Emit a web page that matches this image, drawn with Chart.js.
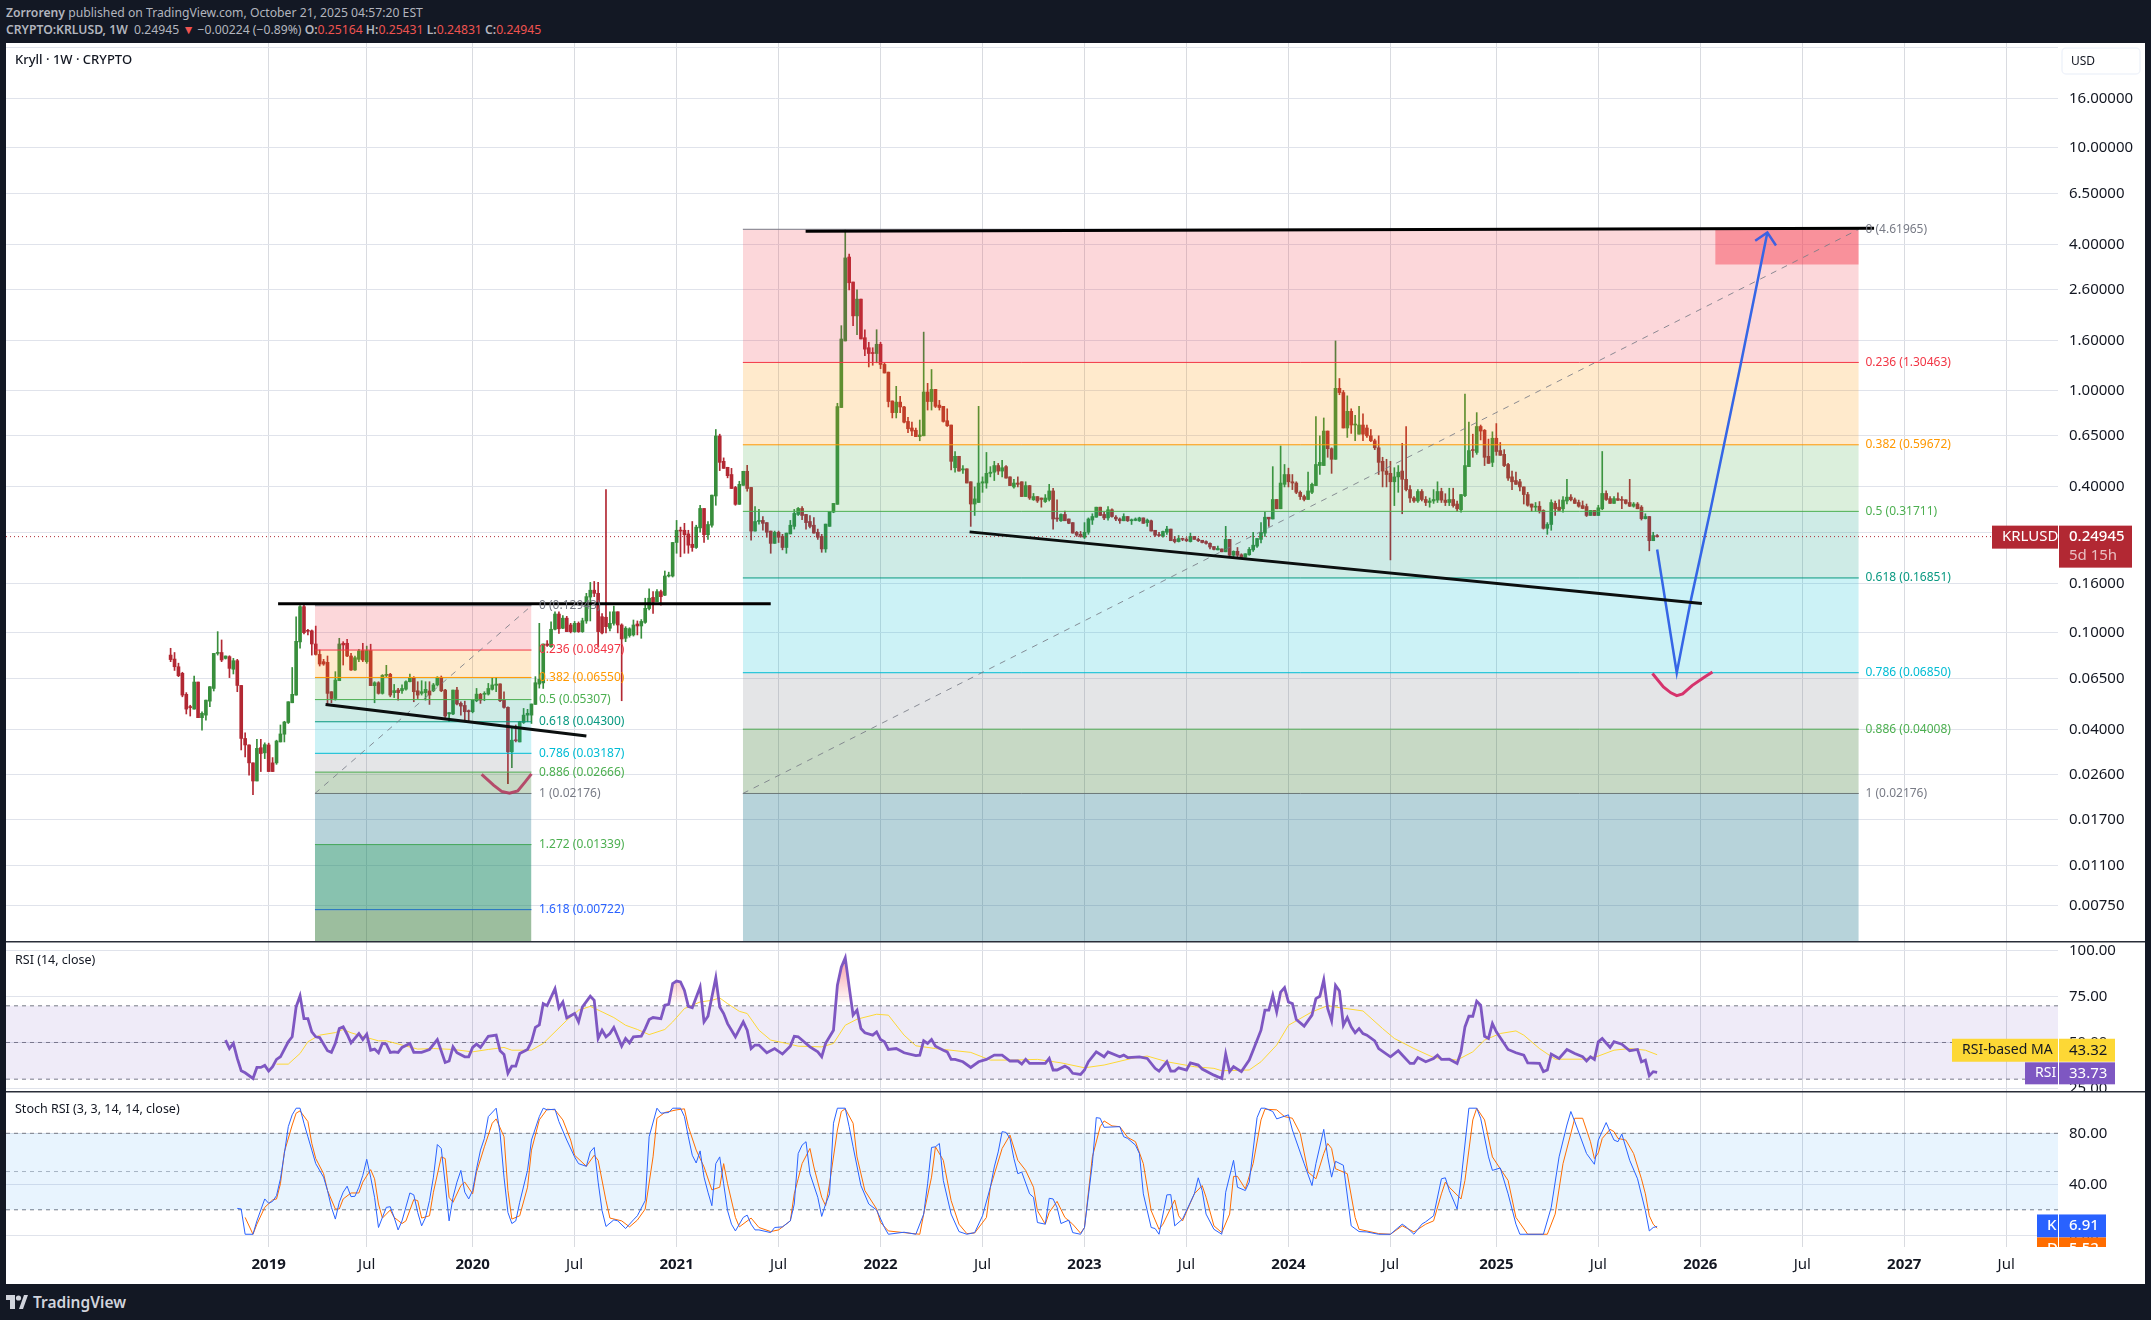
<!DOCTYPE html>
<html>
<head>
<meta charset="utf-8">
<title>KRLUSD</title>
<script src="https://cdn.jsdelivr.net/npm/chart.js@4"></script>
<style>
  html, body { margin: 0; padding: 0; background: #131824; width: 2151px; height: 1320px; overflow: hidden; }
  body { font-family: 'Noto Sans', sans-serif; position: relative; }
  #chart { position: absolute; left: 6px; top: 43px; background: #fff; }
  .head { position: absolute; left: 6px; color: #b2b5be; font-size: 12.2px; line-height: 18px; white-space: nowrap; }
  .head b { font-weight: 600; }
  .head i { font-style: normal; color: #ef5350; }
  #footer { position: absolute; left: 6px; top: 1289px; height: 26px; display: flex; align-items: center; color: #d1d4dc; font-size: 15.5px; font-weight: 600; }
  #footer svg { margin-right: 5px; }
</style>
</head>
<body>
<div class="head" style="top:4px"><b>Zorroreny</b> published on TradingView.com, October 21, 2025 04:57:20 EST</div>
<div class="head" style="top:21px"><b>CRYPTO:KRLUSD, 1W</b> &nbsp;0.24945 <span style="color:#ef5350">▼</span> −0.00224 (−0.89%) <b>O:</b><i>0.25164</i> <b>H:</b><i>0.25431</i> <b>L:</b><i>0.24831</i> <b>C:</b><i>0.24945</i></div>
<canvas id="chart" width="2139" height="1241"></canvas>
<div id="footer">
  <svg width="22" height="14" viewBox="0 0 22 14"><path d="M0 0h9v14H4V5H0z M18 0h4l-5 14h-4z" fill="#d1d4dc"/><circle cx="12.5" cy="3" r="2.6" fill="#d1d4dc"/></svg>
  TradingView
</div>
<script>
// weekly candles, index 0 is the first bar on the chart
const opens = [
  .0810,.0780,.0725,.0681,.0558,.0495,.0485,.0627,.0447,.0458,
  .0523,.0590,.0823,.0830,.0785,.0798,.0708,.0768,.0607,.0367,
  .0345,.0291,.0245,.0336,.0320,.0345,.0291,.0291,.0355,.0382,
  .0427,.0515,.0554,.0918,.1283,.1020,.1020,.0900,.0815,.0761,
  .0756,.0572,.0536,.0635,.0906,.0906,.0803,.0703,.0778,.0845,
  .0761,.0845,.0606,.0623,.0563,.0668,.0675,.0567,.0581,.0577,
  .0586,.0629,.0654,.0577,.0563,.0567,.0576,.0577,.0610,.0656,
  .0581,.0463,.0463,.0581,.0512,.0502,.0478,.0473,.0525,.0558,
  .0558,.0559,.0585,.0608,.0616,.0528,.0493,.0323,.0361,.0355,
  .0427,.0458,.0458,.0507,.0615,.0622,.0900,.0877,.1035,.1196,
  .1045,.1150,.1078,.1012,.1095,.1012,.1120,.1405,.1500,.1456,
  .1166,.1160,.1045,.1095,.1222,.1078,.0950,.0975,.0981,.1088,
  .1068,.1105,.1260,.1400,.1345,.1480,.1430,.1716,.1716,.236,
  .265,.265,.256,.232,.225,.271,.326,.254,.278,.367,
  .649,.510,.482,.450,.398,.339,.406,.464,.398,.263,
  .288,.291,.285,.263,.234,.260,.250,.225,.256,.275,
  .308,.326,.308,.288,.278,.260,.250,.222,.275,.315,
  .339,.850,1.60,3.55,2.80,2.03,2.38,1.65,1.50,1.43,
  1.42,1.55,1.28,1.19,.905,.81,.895,.855,.745,.70,
  .685,.645,.65,.985,.90,1.01,.87,.86,.75,.72,
  .48,.535,.47,.475,.42,.34,.345,.415,.415,.455,
  .46,.49,.465,.485,.44,.40,.415,.42,.365,.405,
  .354,.365,.36,.348,.355,.385,.296,.29,.308,.295,
  .285,.26,.255,.248,.26,.292,.30,.33,.308,.298,
  .322,.30,.295,.29,.302,.29,.291,.29,.298,.285,
  .29,.265,.253,.25,.26,.268,.243,.238,.245,.243,
  .238,.25,.243,.241,.238,.234,.227,.22,.222,.216,
  .243,.209,.217,.21,.205,.21,.22,.228,.243,.258,
  .30,.295,.355,.325,.41,.45,.42,.415,.38,.365,
  .355,.38,.405,.49,.49,.68,.575,.52,1.02,.98,
  .70,.82,.72,.66,.72,.70,.65,.62,.58,.51,
  .465,.455,.42,.44,.465,.43,.39,.36,.35,.383,
  .355,.345,.35,.353,.383,.353,.345,.355,.34,.322,
  .368,.485,.57,.555,.71,.685,.535,.505,.635,.565,
  .545,.495,.44,.425,.42,.40,.372,.34,.33,.333,
  .32,.27,.28,.342,.33,.325,.35,.363,.354,.345,
  .335,.332,.305,.32,.305,.325,.376,.358,.342,.358,
  .354,.354,.345,.333,.34,.33,.296,.302,.24,.25164,
];
const highs = [
  .0864,.0830,.0750,.0688,.0567,.0503,.0664,.0627,.0473,.0528,
  .0600,.0823,.1012,.0935,.0803,.0805,.0785,.0778,.0607,.0387,
  .0345,.0291,.0364,.0364,.0352,.0351,.0306,.0361,.0417,.0432,
  .0520,.0720,.1166,.1295,.1305,.1035,.1028,.1067,.0850,.0778,
  .0803,.0572,.0692,.0950,.0920,.0941,.0823,.0803,.0855,.0906,
  .0882,.0898,.0629,.0629,.0673,.0735,.0681,.0613,.0590,.0610,
  .0635,.0677,.0660,.0629,.0635,.0629,.0629,.0619,.0660,.0664,
  .0585,.0469,.0581,.0596,.0520,.0523,.0481,.0528,.0590,.0563,
  .0572,.0619,.0650,.0656,.0617,.0572,.0496,.0404,.0417,.0432,
  .0488,.0484,.0509,.0660,.1095,.0900,.0930,.1110,.1222,.1222,
  .1180,.1170,.1095,.1115,.1110,.1150,.1456,.1615,.1630,.1615,
  .1200,.3900,.1220,.1290,.1222,.1090,.1061,.1050,.1130,.1120,
  .1135,.1390,.1520,.1480,.1510,.1500,.1800,.1780,.2360,.291,
  .273,.283,.265,.288,.278,.336,.326,.288,.370,.690,
  .660,.527,.482,.477,.402,.422,.464,.491,.398,.332,
  .323,.302,.285,.263,.263,.263,.255,.258,.291,.323,
  .329,.332,.308,.305,.299,.268,.255,.281,.317,.342,
  .885,1.85,4.60,3.65,2.80,2.60,2.38,1.78,1.58,1.50,
  1.78,1.58,1.30,1.19,.905,1.04,.945,.86,.775,.74,
  .70,.755,1.74,1.07,1.22,1.01,.91,.86,.84,.72,
  .56,.535,.49,.475,.42,.40,.86,.44,.555,.485,
  .51,.50,.515,.49,.44,.43,.44,.42,.42,.405,
  .376,.365,.36,.372,.41,.395,.354,.31,.318,.295,
  .285,.262,.262,.285,.298,.31,.33,.33,.315,.332,
  .325,.305,.298,.31,.302,.295,.298,.30,.298,.295,
  .292,.265,.26,.263,.275,.268,.25,.252,.246,.247,
  .258,.25,.246,.241,.24,.235,.227,.228,.222,.275,
  .243,.218,.225,.212,.212,.225,.26,.245,.285,.315,
  .30,.485,.355,.59,.495,.478,.45,.42,.385,.37,
  .46,.415,.78,.65,.77,.68,.58,1.6,1.12,1.0,
  .95,.84,.79,.86,.80,.72,.69,.63,.65,.53,
  .52,.51,.48,.49,.605,.71,.405,.365,.39,.39,
  .365,.36,.39,.42,.395,.375,.395,.395,.35,.372,
  .965,.74,.66,.81,.72,.69,.63,.675,.73,.61,
  .57,.50,.465,.46,.43,.40,.38,.34,.345,.348,
  .322,.285,.354,.35,.354,.365,.43,.372,.36,.353,
  .35,.34,.32,.32,.336,.56,.385,.365,.365,.378,
  .365,.354,.43,.345,.345,.335,.31,.302,.26,.25431,
];
const lows = [
  .0761,.0700,.0660,.0545,.0463,.0454,.0485,.0447,.0397,.0437,
  .0496,.0576,.0810,.0761,.0780,.0654,.0677,.0572,.0329,.0308,
  .0259,.0215,.0245,.0268,.0303,.0268,.0268,.0287,.0355,.0355,
  .0423,.0515,.0554,.0864,.0990,.0980,.0810,.0810,.0730,.0735,
  .0503,.0515,.0528,.0635,.0737,.0798,.0700,.0700,.0761,.0761,
  .0749,.0606,.0515,.0559,.0559,.0660,.0545,.0541,.0528,.0563,
  .0581,.0627,.0520,.0536,.0554,.0528,.0507,.0572,.0604,.0572,
  .0448,.0430,.0460,.0505,.0458,.0430,.0430,.0468,.0520,.0512,
  .0525,.0554,.0581,.0572,.0520,.0489,.0239,.0278,.0355,.0355,
  .0423,.0430,.0423,.0507,.0592,.0590,.0880,.0872,.1028,.0996,
  .1040,.1012,.1000,.1005,.1005,.1005,.1095,.1120,.1411,.0877,
  .0990,.1000,.1020,.1075,.1000,.0525,.0920,.0960,.0970,.0981,
  .0950,.1095,.1243,.1204,.1345,.1300,.1425,.1700,.1700,.213,
  .206,.213,.213,.217,.223,.260,.236,.243,.273,.336,
  .467,.477,.436,.394,.336,.339,.406,.384,.241,.263,
  .281,.265,.248,.213,.234,.236,.220,.213,.256,.268,
  .305,.293,.268,.271,.258,.243,.215,.215,.275,.313,
  .339,.850,1.60,2.60,1.85,1.70,1.63,1.39,1.25,1.27,
  1.30,1.23,1.18,.855,.77,.77,.81,.735,.67,.65,
  .645,.62,.65,.83,.83,.85,.83,.74,.71,.47,
  .46,.465,.455,.415,.275,.305,.345,.38,.395,.44,
  .425,.45,.44,.435,.405,.395,.40,.365,.365,.355,
  .352,.345,.33,.345,.35,.268,.288,.288,.29,.282,
  .258,.25,.248,.245,.255,.28,.30,.305,.293,.292,
  .30,.29,.283,.29,.288,.28,.29,.288,.283,.275,
  .263,.25,.25,.248,.255,.24,.235,.237,.24,.238,
  .237,.243,.238,.235,.232,.222,.22,.22,.216,.216,
  .207,.205,.205,.203,.205,.209,.217,.225,.235,.25,
  .275,.295,.325,.325,.40,.40,.39,.375,.355,.35,
  .355,.375,.405,.45,.49,.53,.455,.52,.96,.70,
  .64,.665,.62,.66,.62,.64,.615,.57,.45,.40,
  .40,.20,.335,.38,.31,.385,.345,.345,.345,.35,
  .335,.33,.342,.345,.345,.335,.335,.33,.318,.315,
  .365,.485,.53,.545,.625,.49,.50,.485,.54,.54,
  .485,.425,.39,.41,.385,.34,.333,.318,.318,.312,
  .268,.255,.265,.305,.32,.315,.34,.35,.342,.33,
  .325,.302,.305,.305,.305,.322,.352,.342,.342,.352,
  .325,.34,.332,.33,.325,.292,.295,.218,.24,.24831,
];
const closes = [
  .0776,.0725,.0666,.0554,.0485,.0492,.0627,.0447,.0466,.0528,
  .0600,.0823,.0828,.0773,.0803,.0714,.0768,.0607,.0367,.0345,
  .0291,.0245,.0334,.0318,.0346,.0268,.0268,.0358,.0383,.0429,
  .0520,.0558,.0923,.1283,.1002,.1015,.0900,.0815,.0744,.0744,
  .0563,.0536,.0639,.0900,.0892,.0803,.0703,.0790,.0842,.0773,
  .0845,.0606,.0623,.0563,.0668,.0673,.0554,.0578,.0567,.0590,
  .0629,.0654,.0572,.0554,.0572,.0585,.0554,.0610,.0656,.0577,
  .0454,.0469,.0581,.0509,.0499,.0473,.0473,.0528,.0559,.0528,
  .0563,.0590,.0610,.0615,.0525,.0493,.0323,.0361,.0359,.0430,
  .0458,.0466,.0509,.0623,.0643,.0900,.0888,.1035,.1196,.1040,
  .1150,.1012,.1012,.1095,.1012,.1122,.1411,.1500,.1456,.1012,
  .1000,.1061,.1095,.1222,.1078,.0944,.1045,.1040,.1078,.1068,
  .1115,.1263,.1390,.1340,.1480,.1411,.1716,.1730,.2360,.265,
  .263,.254,.230,.225,.273,.326,.254,.280,.370,.649,
  .505,.477,.445,.394,.339,.410,.464,.394,.263,.288,
  .291,.283,.260,.234,.260,.248,.225,.258,.278,.311,
  .326,.305,.285,.275,.258,.248,.222,.281,.317,.342,
  .858,1.63,3.52,2.78,2.03,2.38,1.63,1.48,1.42,1.42,
  1.55,1.28,1.18,.90,.81,.895,.855,.74,.695,.68,
  .645,.655,.985,.90,1.01,.86,.85,.745,.715,.51,
  .535,.465,.475,.415,.34,.357,.415,.42,.455,.46,
  .49,.465,.48,.435,.405,.415,.41,.365,.405,.36,
  .365,.35,.355,.36,.385,.295,.295,.308,.29,.283,
  .258,.253,.25,.26,.295,.302,.33,.305,.298,.322,
  .302,.295,.29,.302,.29,.293,.295,.298,.283,.292,
  .263,.253,.252,.262,.268,.24,.238,.245,.243,.24,
  .25,.243,.24,.236,.234,.226,.221,.223,.216,.243,
  .209,.217,.209,.205,.212,.221,.23,.245,.26,.30,
  .295,.355,.325,.415,.45,.42,.415,.38,.365,.355,
  .385,.41,.495,.505,.68,.575,.52,1.02,.98,.70,
  .82,.72,.725,.72,.66,.65,.62,.58,.505,.465,
  .45,.42,.44,.46,.43,.39,.36,.35,.383,.355,
  .345,.35,.355,.383,.353,.345,.355,.335,.325,.372,
  .49,.565,.565,.71,.68,.53,.50,.635,.56,.54,
  .49,.435,.42,.41,.40,.372,.336,.33,.333,.318,
  .27,.28,.345,.325,.32,.353,.363,.354,.342,.333,
  .326,.305,.32,.305,.328,.376,.355,.342,.358,.352,
  .352,.342,.333,.34,.325,.296,.302,.24,.252,.24945,
];

// RSI, read at its turning points
const rsiBars = [14,15,16,17,18,19,21,22,23,24,25,26,27,28,30,31,32,33,34,35,36,37,38,40,41,42,43,44,45,46,48,49,50,51,52,53,54,55,56,57,58,59,61,62,64,66,68,70,71,72,73,75,76,77,78,79,81,83,84,85,86,87,88,89,91,92,93,94,95,96,98,99,100,101,103,104,105,107,108,109,110,111,112,113,114,115,116,117,118,120,121,122,123,125,126,127,128,129,130,131,132,133,135,136,137,139,140,141,142,144,146,147,148,149,150,152,154,156,158,159,
  160,163,165,166,167,169,170,171,172,173,174,175,176,177,179,180,181,182,183,185,187,190,191,192,193,194,195,197,198,199,200,202,204,206,208,210,212,214,216,217,218,219,221,223,224,225,226,228,229,230,232,233,234,236,238,239,242,243,244,247,249,251,252,254,255,256,257,259,260,262,263,266,268,269,270,271,273,275,276,278,279,280,281,282,283,284,285,286,287,289,291,292,293,294,295,296,297,298,299,300,301,302,303,304,305,307,308,311,313,316,317,318,320,322,323,324,326,328,329,330,331,332,333,334,335,336,337,338,341,343,345,346,349,350,351,352,354,356,358,360,361,362,363,364,365,367,368,370,372,374,375,376,377,378,379];
const rsiValues = [51.3,46.7,49.5,41.3,34.6,33.5,30.4,36.4,36.4,37.5,34.4,36.8,40.8,42.2,50.4,53.1,69.4,75.5,63,63,55.8,53.1,52.7,45.5,44.6,49.5,57.6,58.5,54.5,49.8,54.9,51.6,54.5,45.8,46.4,44.4,49.5,49.1,44.6,44.9,44.6,47.3,49.5,44.6,44.6,46.2,51.6,39.1,39.9,47.6,44.4,42.2,42.2,47.3,49.1,47.3,53.4,54,45.5,43.5,33.2,37.1,37.1,44,46.2,50.4,58.2,59.6,71.2,70.1,79.3,68.8,72.1,63.4,65.8,61.2,69.4,75.2,73,52.2,56.7,53.1,54.9,58.2,53.1,48,52.2,49.8,53.1,53.4,57.6,62.5,63.6,63,70.3,70.8,82.1,83.5,83,78.4,69.7,69,80.3,61.2,64.3,85.3,69.4,65.8,60.3,53.1,61.2,56.7,46.7,48.6,48.6,44.4,46.7,43.7,48,53.4,
  53.1,47.6,44.9,42.2,49.5,56.7,81.2,91.1,96.2,80.3,64.9,67.6,57.6,55.3,54,55.8,51.6,50.4,46.2,46.7,44.4,42.8,43.1,50.9,49.5,51.6,48,45.8,44.9,40.8,40.8,39.5,36.4,39.5,40.8,43.1,43.1,39.9,39.9,38.2,40.8,38.6,38.6,38.6,41.3,35,35,37.1,35.9,33.2,32.6,35,39.5,44.9,42.2,44.9,42.2,43.1,41.8,42.2,41.3,35.9,34.4,39.5,34.4,34.4,36.2,35,38.9,37.7,35.5,32.2,30.4,43.7,34.1,36.8,34.1,40.4,45.8,56.7,67.6,67.6,75.7,66.7,77.5,79.9,72.1,71.2,62.5,58.9,64.9,73.9,75.2,84.2,68.5,61.8,81.2,78.1,59.4,63.6,58.5,55.3,57.6,54.9,54,50.9,46.7,42.2,45.5,38.6,38.6,41.8,39.5,41.3,43.1,40.8,40.9,38.6,44.9,58.5,64.3,64.3,72.5,70.3,53.4,52.2,60.3,55.8,46.2,44.4,43.1,38.9,38.6,34.1,35,43.7,41.3,46.2,44,42.2,39.9,42.2,40.8,50.4,52.2,47.3,50.4,49.1,45.5,46.2,39.5,40.4,31.9,34.1,33.73];

// RSI-based moving average
const maBars = [27,30,33,35,38,42,44,46,50,53,55,59,63,67,72,77,81,85,87,92,95,98,101,104,107,110,113,116,119,122,126,128,131,135,138,140,142,145,147,150,153,157,160,166,169,172,175,180,183,187,190,195,204,209,215,221,227,233,238,245,249,254,261,266,268,275,278,282,285,291,295,298,304,309,312,317,322,328,332,335,339,343,345,349,353,360,364,368,372,376,379];
const maValues = [38.2,38.2,44,50.4,54,55.4,57.1,55.3,52.7,50.9,50.9,48.6,46.4,46.7,46.2,44.9,46.2,47.3,45.8,45.8,49.5,55.8,62.1,67.6,69.7,66.7,63.6,59.4,57.1,54.3,57.1,61.2,68.5,72.1,73,74.3,71.2,67,65.8,56.7,51.3,49.5,48,47.6,49.5,59.4,62.7,65.4,64.9,54,48.2,46.7,44.6,40.4,40.4,40.8,38.9,36.2,37.7,41.3,42.6,39.5,36.8,35.9,34.6,35,39.5,48.6,59.4,66.7,70.1,69,67.2,57.6,52.2,46.7,41.8,40.4,44.9,51.3,54.9,56.3,54,46.7,40.9,40.9,42.6,45.8,46.7,45.8,43.32];

// Stoch RSI %K
const kBars = [17,18,19,21,22,24,25,26,27,28,29,30,31,32,33,34,35,36,37,39,40,41,42,43,44,45,46,47,48,49,50,51,52,53,54,55,56,57,58,59,61,62,63,64,65,66,67,68,69,70,71,72,73,74,75,76,77,78,79,80,81,83,84,85,86,87,88,89,91,92,94,95,96,98,99,101,103,104,106,107,108,109,110,111,113,114,116,118,119,121,122,124,125,127,128,130,131,132,133,134,135,136,137,138,139,140,141,142,143,144,146,147,148,149,150,153,154,156,158,159,
  160,161,162,163,165,166,167,168,169,170,172,173,174,176,178,180,182,183,187,190,192,193,194,195,196,197,199,201,203,205,207,209,210,211,212,213,214,215,216,217,219,220,221,223,224,225,226,227,229,230,232,233,235,236,237,238,242,243,244,246,247,248,250,251,252,254,255,256,258,261,262,263,264,266,268,269,271,272,274,275,277,278,279,281,282,285,286,289,291,292,294,295,296,297,299,301,303,305,308,311,314,315,317,319,320,322,324,325,326,328,329,331,333,334,336,337,339,341,343,344,350,352,354,356,357,358,361,363,364,366,367,368,369,370,372,374,376,377,378,379];
const kValues = [21.1,20.6,.8,.8,11.3,28.5,25.1,26.6,31.1,44.3,64.1,85.2,94.5,99.7,99.7,87.9,77.3,66.8,56.2,45.6,35.1,21.9,12.7,25.9,33.8,38.5,30.3,30.6,37.7,47,59.6,45.6,29.8,6.1,14,21.9,22.4,14,4.2,11.3,33.2,31.7,17.9,7.4,14,27.2,45.6,71.2,68.1,40.4,11.3,29.8,41.7,50.9,33.8,28.5,35.1,52.2,66.8,76,93.1,99.7,79.9,45.6,17.9,9.2,11.3,25.9,50.9,74.7,93.1,99.7,98.4,98.9,89.2,74.7,61.5,56.2,54.1,65.4,68.9,41.7,19.3,6.9,12.1,11.3,5.3,12.1,15.3,27.2,77.3,99.7,95.8,96.3,99.7,99.7,93.1,77.3,62.8,56.7,66.2,45.6,33.8,23.2,56.2,61.5,40.4,19.3,8.7,3.4,14,15.8,8.7,4.2,4.2,2.1,6.1,6.6,11.3,24.5,
  64.1,70.7,73.4,48.3,29.8,14.8,24.5,32.5,87.9,99.7,99.7,85.2,69.4,39,24.5,19.8,6.1,.8,2.4,.8,16.6,40.4,68.9,69.4,72,43,16.6,2.9,.8,2.1,15.3,37.7,53.6,65.4,81.3,80.7,76,60.2,48.3,49.6,32.5,29.8,10,8.7,29,28.5,21.9,9.2,11.9,2.1,.8,6.1,56.2,92.3,91.8,84.7,85.2,77.3,76,70.7,64.1,32.5,6.1,5.3,.8,31.7,31.9,7.4,12.7,32.5,45.1,35.1,16.6,4.7,.8,33.8,58.8,37.7,35.1,41.7,92.3,99.7,99.7,97.1,91.3,94.5,82.6,56.2,39,56.2,83.1,61.5,45.6,58,54.9,7.4,2.9,2.6,.8,.8,8.7,6.6,.8,8.7,10.6,15.3,44.3,45.1,35.1,20.6,43,99.7,99.7,91.8,61.5,50.9,52.8,32.5,8.7,.8,.8,21.9,61.5,86.5,97.1,89.2,64.1,55.7,74.7,88.4,81.3,74.7,73.4,79.4,58.8,44.3,19.3,3.4,6.1,6.91];

// Stoch RSI %D
const dBars = [19,21,22,24,26,27,28,29,31,32,33,35,36,37,39,40,42,43,44,46,48,49,51,52,53,54,56,57,59,60,62,63,64,66,67,69,70,71,72,74,75,77,78,80,82,83,85,86,87,89,91,92,94,96,98,100,102,103,106,108,109,111,112,115,117,119,121,123,124,126,129,131,132,134,136,138,140,141,142,144,145,148,150,153,155,158,159,
  160,161,163,164,166,167,168,170,171,172,174,175,177,180,181,183,186,191,192,194,195,197,199,201,203,205,208,209,212,214,216,218,220,221,223,224,226,228,230,232,233,235,237,238,240,242,244,246,248,250,252,253,256,257,258,261,263,264,266,268,270,271,272,274,276,278,279,282,284,286,288,290,292,294,295,296,297,300,302,303,308,311,314,317,320,322,324,325,326,329,330,332,333,335,337,339,341,343,346,351,353,355,357,358,360,362,363,364,365,367,368,369,371,373,375,376,377,378,379];
const dValues = [14,.8,8.7,21.9,27.7,28.5,40.4,65.4,86.5,95.8,97.6,89.2,72,60.2,48.3,35.1,20.6,20.6,28.5,33.2,33.2,41.7,51.5,44.3,24.5,13.5,19.8,14,9.2,11.3,28,27.2,13.5,15.3,33.8,61.5,60.2,29.8,25.9,39,41.7,32.5,49.6,69.4,87.9,91.3,77.3,35.1,12.7,15.3,37.7,66.8,90.5,98.9,98.4,90.5,74.7,62.8,54.1,62.8,58.8,27.2,13.5,11.3,6.6,11.9,20.6,61.5,91.8,96.3,98.4,99.2,85.2,66.8,53.6,35.6,37.7,56.2,40.4,14,6.6,13.5,6.1,2.9,4.2,11.3,32.5,
  44.3,56.2,68.1,53.6,29.8,23.2,40.4,82.6,97.1,99.2,87.9,61.5,35.1,20.6,10,3.4,2.4,.8,16.6,45.6,69.4,58.8,27.2,8.7,1.3,1.8,14,37.7,68.1,78.6,58.8,50.9,37.7,19.3,8.7,17.9,26.6,14,8.7,1.6,6.1,61.5,85.2,89.7,85.8,85.2,76.8,73.4,56.2,19.3,4.7,8.7,27.7,15.3,11.3,32.5,39,29.8,7.4,2.1,16.6,46.2,46.2,36.4,56.2,90.5,98.9,98.4,93.1,91.8,79.9,49.6,44.3,64.1,72,68.1,52.2,48.3,14,4.7,1.3,.8,7.4,2.6,8.7,11.3,32.5,41.7,37.7,28.5,43,90.5,99.7,90.5,61.5,52.2,43,14,.8,.8,16.6,56.2,79.9,91.8,91.8,73.4,60.2,64.6,76,83.1,81.3,76,74.7,64.1,44.3,32.5,15.3,8.7,5.52];

// fibonacci retracements
const fibRatios = ['0','0.236','0.382','0.5','0.618','0.786','0.886','1','1.272','1.618'];
const bigFibPrices = [4.61965,1.30463,.59672,.31711,.16851,.0685,.04008,.02176];
const smallFibPrices = [.12943,.08497,.0655,.05307,.043,.03187,.02666,.02176,.01339,.00722];
const fibLineColors = ['#787b86','#f23645','#ff9800','#4caf50','#089981','#00bcd4','#4caf50','#787b86','#4caf50','#2962ff'];
const fibZoneColors = ['rgba(242,54,69,.2)','rgba(255,152,0,.2)','rgba(76,175,80,.2)','rgba(8,153,129,.2)','rgba(0,188,212,.2)','rgba(120,123,134,.2)','rgba(31,103,23,.25)','rgba(18,108,132,.3)','rgba(17,133,95,.5)','rgba(35,111,39,.45)'];
const bigFibBars = [145.9, 430.4];
const smallFibBars = [36.8, 92];

// hand drawn lines
const resistSmallBars = [27.4, 153], resistSmallPrices = [.132, .132];
const supportSmallBars = [39.5, 106], supportSmallPrices = [.0507, .0376];
const resistBigBars = [161.9, 434.3], resistBigPrices = [4.54, 4.67];
const supportBigBars = [203.7, 390.4], supportBigPrices = [.261, .1323];
const forecastBars = [379, 384, 387.6, 392.5, 400.4, 407.1], forecastPrices = [.2209, .0685, .1365, .3157, 1.304, 4.483];
const arrowBars = [404, 407.1, 409.3], arrowPrices = [4.14, 4.483, 3.962];
const bigCupBars = [377.8, 380.6, 382.5, 384, 385.5, 387.9, 391, 393.1], bigCupPrices = [.068, .0598, .0566, .0551, .056, .0606, .0656, .069];
const smallCupBars = [79.3, 82.4, 84.4, 86.4, 88.5, 90.4, 92], smallCupPrices = [.0261, .0235, .0222, .0218, .0223, .0243, .0262];
const targetBars = [393.8, 430.4], targetPrices = [4.6, 3.31];

// axes
const tickBars = [25, 50, 77, 103, 129, 155, 181, 207, 233, 259, 285, 311, 338, 364, 390, 416, 442, 468];
const tickLabels = ['2019', 'Jul', '2020', 'Jul', '2021', 'Jul', '2022', 'Jul', '2023', 'Jul', '2024', 'Jul', '2025', 'Jul', '2026', 'Jul', '2027', 'Jul'];
const priceTicks = [26, 16, 10, 6.5, 4, 2.6, 1.6, 1, .65, .4, .26, .16, .1, .065, .04, .026, .017, .011, .0075];
const rsiTicks = [100, 75, 50, 25];
const stochTicks = [80, 40, 0];
const lastPrice = .24945, lastRsi = 33.73, lastMa = 43.32, lastK = 6.91, lastD = 5.52;

const xMin = -41.97, xMax = 481.2;
const priceMin = .00531, priceMax = 27.1;
const FONT = "'Noto Sans', sans-serif";
const GRID = '#e0e3eb';
const UP = '#388e3c', DOWN = '#b22833';

const pts = (xs, ys) => xs.map((x, i) => ({ x, y: ys[i] }));

function line(xs, ys, color, width, extra) {
  return Object.assign({
    type: 'line', data: pts(xs, ys), borderColor: color, borderWidth: width,
    pointRadius: 0, tension: 0, fill: false, order: 5, yAxisID: 'y',
  }, extra);
}

function hline(value, yAxisID, extra) {
  return line([xMin, xMax], [value, value], '#787b86', 1, Object.assign({ yAxisID, borderDash: [4, 4], order: 20 }, extra));
}

function fibSets(bars, prices) {
  const sets = prices.map((p, i) => line(bars, [p, p], fibLineColors[i], 1, {
    order: 30, fill: '+1', backgroundColor: fibZoneColors[i],
  }));
  sets.push(line(bars, [priceMin, priceMin], 'transparent', 0, { order: 30 }));
  return sets;
}

const canvas = document.getElementById('chart');
const overbought = canvas.getContext('2d').createLinearGradient(0, 908, 0, 962);
overbought.addColorStop(0, 'rgba(242,54,69,.55)');
overbought.addColorStop(1, 'rgba(242,54,69,0)');

const candleData = (top, bottom) => opens.map((_, i) => ({ x: i, y: [bottom[i], top[i]] }));
const candleColors = opens.map((o, i) => (closes[i] >= o ? UP : DOWN));
const bodyTop = opens.map((o, i) => Math.max(o, closes[i]));
const bodyBottom = opens.map((o, i) => Math.min(o, closes[i]));

const datasets = [
  { type: 'bar', data: candleData(highs, lows), backgroundColor: candleColors, barThickness: 1, grouped: false, order: 51, yAxisID: 'y' },
  { type: 'bar', data: candleData(bodyTop, bodyBottom), backgroundColor: candleColors, barThickness: 3, minBarLength: 1, grouped: false, order: 50, yAxisID: 'y' },
  ...fibSets(bigFibBars, bigFibPrices),
  ...fibSets(smallFibBars, smallFibPrices),
  line(bigFibBars, [bigFibPrices[7], bigFibPrices[0]], 'rgba(120,123,134,.85)', 1, { borderDash: [6, 6], order: 25 }),
  line(smallFibBars, [smallFibPrices[7], smallFibPrices[0]], 'rgba(120,123,134,.85)', 1, { borderDash: [6, 6], order: 25 }),
  line([xMin, xMax], [lastPrice, lastPrice], DOWN, 1, { borderDash: [1, 3], order: 24 }),
  // target box
  line(targetBars, [targetPrices[0], targetPrices[0]], 'transparent', 0, { order: 26, fill: '+1', backgroundColor: 'rgba(247,60,80,.45)' }),
  line(targetBars, [targetPrices[1], targetPrices[1]], 'transparent', 0, { order: 26 }),
  line(resistSmallBars, resistSmallPrices, '#000', 3),
  line(supportSmallBars, supportSmallPrices, '#0b0f0f', 3),
  line(resistBigBars, resistBigPrices, '#000', 3),
  line(supportBigBars, supportBigPrices, '#0b0f0f', 3),
  line(forecastBars, forecastPrices, '#3566e6', 2.5),
  line(arrowBars, arrowPrices, '#4060e0', 2.5),
  line(bigCupBars, bigCupPrices, '#d6336c', 3),
  line(smallCupBars, smallCupPrices, 'rgba(178,50,90,.85)', 3),
  // RSI pane
  hline(70, 'yRsi', { fill: '+1', backgroundColor: 'rgba(126,87,194,.12)' }),
  hline(30, 'yRsi'),
  hline(50, 'yRsi', { borderDash: [4, 4] }),
  line(maBars, maValues, '#fdd835', 1, { yAxisID: 'yRsi', order: 3 }),
  line(rsiBars, rsiValues, '#7e57c2', 2.8, {
    yAxisID: 'yRsi', order: 2, backgroundColor: 'transparent',
    fill: { target: { value: 70 }, above: overbought, below: 'transparent' },
  }),
  // Stoch RSI pane
  hline(80, 'yStoch', { fill: '+1', backgroundColor: 'rgba(33,150,243,.1)' }),
  hline(20, 'yStoch'),
  hline(50, 'yStoch', { borderColor: 'rgba(120,123,134,.55)' }),
  line(dBars, dValues, '#ff6d00', 1, { yAxisID: 'yStoch', order: 3 }),
  line(kBars, kValues, '#2962ff', 1, { yAxisID: 'yStoch', order: 2 }),
];

// labels of the outer ticks must not shrink the plot area
function noPadding(s) {
  s.paddingLeft = s.paddingRight = s.paddingTop = s.paddingBottom = 0;
}

function paneAxis(extra, ticksList, format) {
  return Object.assign({
    position: 'right', stack: 'panes', border: { display: false }, bounds: 'data',
    grid: { color: GRID, drawTicks: false, tickLength: 0 },
    ticks: {
      color: '#131722', font: { family: FONT, size: 15 }, padding: 11, autoSkip: false,
      maxRotation: 0, callback: format,
    },
    afterBuildTicks: (s) => { s.ticks = ticksList.map((value) => ({ value })); },
    afterFit: (s) => { s.width = 87; noPadding(s); },
  }, extra);
}

function tag(ctx, x, y, w, h, color, text, textColor, font) {
  ctx.fillStyle = color;
  ctx.fillRect(x, y, w, h);
  if (!text) return;
  ctx.fillStyle = textColor;
  ctx.font = font;
  ctx.textAlign = 'left';
  ctx.textBaseline = 'middle';
  ctx.fillText(text, x + 10, y + h / 2);
}

const overlay = {
  id: 'overlay',
  afterDraw(chart) {
    const { ctx, scales, chartArea } = chart;
    const yp = scales.y, yr = scales.yRsi, ys = scales.yStoch;
    const axisX = chartArea.right;
    const f15 = `15px ${FONT}`;
    ctx.save();

    // fib labels
    ctx.font = `12px ${FONT}`;
    ctx.textAlign = 'left';
    ctx.textBaseline = 'middle';
    bigFibPrices.forEach((p, i) => {
      ctx.fillStyle = fibLineColors[i];
      ctx.fillText(`${fibRatios[i]} (${p.toFixed(5)})`, 1859.5, yp.getPixelForValue(p));
    });
    smallFibPrices.forEach((p, i) => {
      ctx.fillStyle = fibLineColors[i];
      ctx.fillText(`${fibRatios[i]} (${p.toFixed(5)})`, 533, yp.getPixelForValue(p));
    });

    // pane titles
    ctx.fillStyle = '#131722';
    ctx.font = `500 13px ${FONT}`;
    ctx.fillText('Kryll · 1W · CRYPTO', 9, 17);
    ctx.font = `12.5px ${FONT}`;
    ctx.fillText('RSI (14, close)', 9, yr.top + 18);
    ctx.fillText('Stoch RSI (3, 3, 14, 14, close)', 9, ys.top + 17);

    // USD chip
    ctx.fillStyle = '#fff';
    ctx.strokeStyle = '#f0f3fa';
    ctx.lineWidth = 1.5;
    ctx.beginPath();
    ctx.roundRect(2056, 5, 78, 26, 4);
    ctx.fill();
    ctx.stroke();
    ctx.fillStyle = '#131722';
    ctx.font = `12px ${FONT}`;
    ctx.fillText('USD', 2065, 18.5);

    // the 25.00 label is cut by the pane border
    ctx.fillStyle = '#fff';
    ctx.fillRect(axisX, yr.bottom, 87, 14);

    // last value tags
    const priceY = yp.getPixelForValue(lastPrice);
    tag(ctx, 1986, priceY - 11, 66, 23, DOWN, 'KRLUSD', '#fff', f15);
    tag(ctx, axisX + 1, priceY - 11, 73, 42, DOWN, '', '', f15);
    ctx.fillStyle = '#fff';
    ctx.font = `500 15px ${FONT}`;
    ctx.fillText(lastPrice.toFixed(5), axisX + 11, priceY + 0.5);
    ctx.fillStyle = 'rgba(255,255,255,.7)';
    ctx.font = f15;
    ctx.fillText('5d 15h', axisX + 11, priceY + 19);

    const maY = yr.getPixelForValue(lastMa) - 4.5;
    tag(ctx, 1946, maY - 11.5, 106, 23, '#fdd835', 'RSI-based MA', '#131722', `14px ${FONT}`);
    tag(ctx, axisX + 1, maY - 11.5, 56, 23, '#fdd835', lastMa.toFixed(2), '#131722', f15);
    const rsiY = yr.getPixelForValue(lastRsi) + 1;
    tag(ctx, 2019, rsiY - 11, 33, 22, '#7e57c2', 'RSI', '#fff', `14px ${FONT}`);
    tag(ctx, axisX + 1, rsiY - 11, 56, 22, '#7e57c2', lastRsi.toFixed(2), '#fff', f15);

    ctx.save();
    ctx.beginPath();
    ctx.rect(1900, ys.top, 239, chartArea.bottom - ys.top);
    ctx.clip();
    const kY = ys.getPixelForValue(lastK);
    tag(ctx, 2031, kY - 12, 21, 23, '#2962ff', 'K', '#fff', `500 15px ${FONT}`);
    tag(ctx, axisX + 1, kY - 12, 47, 23, '#2962ff', lastK.toFixed(2), '#fff', `500 15px ${FONT}`);
    tag(ctx, 2031, kY + 11, 21, 23, '#ff6d00', 'D', '#fff', `500 15px ${FONT}`);
    tag(ctx, axisX + 1, kY + 11, 47, 23, '#ff6d00', lastD.toFixed(2), '#fff', `500 15px ${FONT}`);
    ctx.restore();

    // pane borders
    ctx.fillStyle = '#2a2e39';
    ctx.fillRect(0, Math.round(yr.top) - 1, 2139, 1.5);
    ctx.fillRect(0, Math.round(ys.top) - 1, 2139, 1.5);
    ctx.restore();
  },
};

new Chart(canvas, {
  type: 'line',
  data: { datasets },
  plugins: [overlay],
  options: {
    responsive: false,
    animation: false,
    devicePixelRatio: 1,
    events: [],
    layout: { padding: 0, autoPadding: false },
    plugins: { legend: { display: false }, tooltip: { enabled: false } },
    scales: {
      x: {
        type: 'linear', min: xMin, max: xMax, position: 'bottom', offset: false,
        border: { display: false },
        grid: { color: '#d9dbe0', drawTicks: false, tickLength: 0, offset: false },
        afterBuildTicks: (s) => { s.ticks = tickBars.map((value) => ({ value })); },
        afterFit: (s) => { s.height = 37; noPadding(s); },
        ticks: {
          autoSkip: false, maxRotation: 0, padding: 9, color: '#131722',
          callback: (v) => tickLabels[tickBars.indexOf(v)],
          font: (c) => ({
            family: FONT, size: 15,
            weight: c.tick && tickLabels[tickBars.indexOf(c.tick.value)] !== 'Jul' ? 'bold' : 'normal',
          }),
        },
      },
      y: paneAxis({ type: 'logarithmic', min: priceMin, max: priceMax, stackWeight: 899 }, priceTicks, (v) => (v === 26 ? '' : v.toFixed(5))),
      yRsi: paneAxis({ type: 'linear', min: 23, max: 104.8, stackWeight: 150 }, rsiTicks, (v) => v.toFixed(2)),
      yStoch: paneAxis({ type: 'linear', min: -9.2, max: 112.4, stackWeight: 155 }, stochTicks, (v) => v.toFixed(2)),
    },
  },
});
</script>
</body>
</html>
